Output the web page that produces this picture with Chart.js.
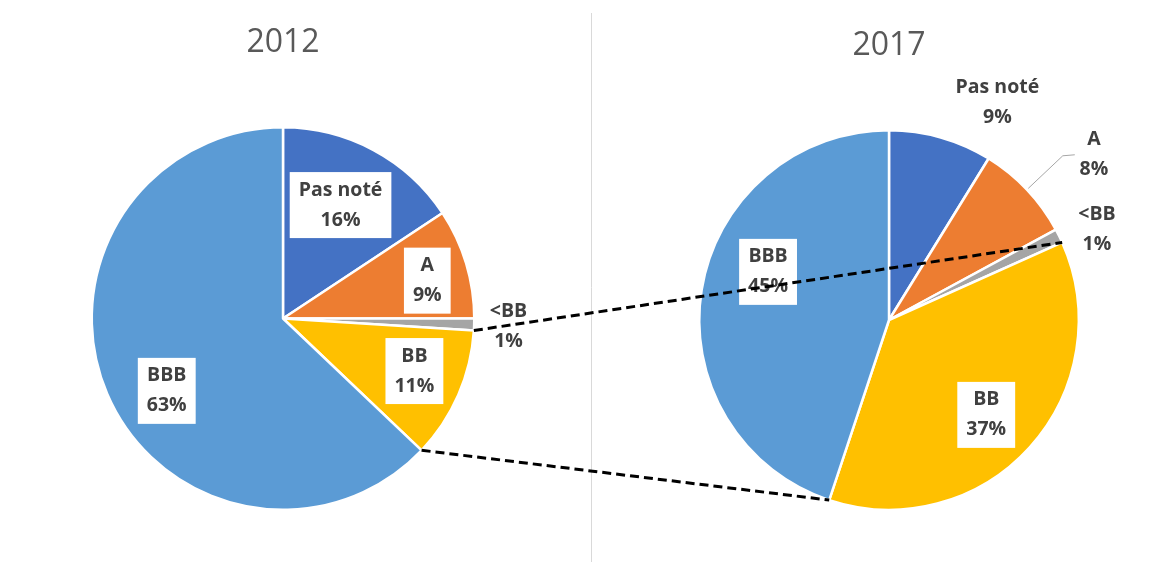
<!DOCTYPE html>
<html>
<head>
<meta charset="utf-8">
<script src="https://cdn.jsdelivr.net/npm/chart.js@4.4.1/dist/chart.umd.min.js"></script>
<style>
  body { margin: 0; background: #fff; }
  #wrap { position: relative; width: 1176px; height: 565px; }
  canvas { position: absolute; top: 0; }
  #c2012 { left: 0; }
  #c2017 { left: 591px; }
  #overlay { left: 0; pointer-events: none; }
</style>
</head>
<body>
<div id="wrap">
  <canvas id="c2012" width="591" height="565"></canvas>
  <canvas id="c2017" width="585" height="565"></canvas>
  <canvas id="overlay" width="1176" height="565"></canvas>
</div>
<script>
// rating categories and shares (%)
var categories = ["Pas noté", "A", "<BB", "BB", "BBB"];
var shares2012 = [15.7, 9.3, 1.0, 11.1, 62.9];
var shares2017 = [8.8, 8.3, 1.2, 36.8, 44.9];
var colors = ["#4472C4", "#ED7D31", "#A5A5A5", "#FFC000", "#5B9BD5"];

var FONT = "'Open Sans', 'Noto Sans', sans-serif";

// draws the white boxed labels / outside labels for each slice
var sliceLabels = {
  id: 'sliceLabels',
  afterDatasetsDraw: function (chart, args, opts) {
    var ctx = chart.ctx;
    var meta = chart.getDatasetMeta(0);
    var data = chart.data.datasets[0].data;
    ctx.save();
    ctx.font = "bold 19.5px " + FONT;
    ctx.textAlign = "center";
    ctx.textBaseline = "middle";
    meta.data.forEach(function (arc, i) {
      var p = opts.pos[i];
      var a = (p[0] - 90) * Math.PI / 180;
      var cx = arc.x + Math.cos(a) * arc.outerRadius * p[1];
      var cy = arc.y + Math.sin(a) * arc.outerRadius * p[1];
      var l1 = chart.data.labels[i];
      var l2 = Math.round(data[i]) + "%";
      var lh = 30;
      if (opts.boxed[i]) {
        var w = Math.max(ctx.measureText(l1).width, ctx.measureText(l2).width) + 18;
        var h = lh * 2 + 6;
        ctx.fillStyle = "#fff";
        ctx.fillRect(cx - w / 2, cy - h / 2, w, h);
      }
      if (opts.leader && opts.leader[i]) {
        var ma = (arc.startAngle + arc.endAngle) / 2;
        var x1 = arc.x + Math.cos(ma) * arc.outerRadius * 1.01;
        var y1 = arc.y + Math.sin(ma) * arc.outerRadius * 1.01;
        var x2 = arc.x + Math.cos(ma) * arc.outerRadius * 1.26;
        var y2 = arc.y + Math.sin(ma) * arc.outerRadius * 1.26;
        ctx.strokeStyle = "#A6A6A6";
        ctx.lineWidth = 1;
        ctx.beginPath();
        ctx.moveTo(x1, y1);
        ctx.lineTo(x2, y2);
        ctx.lineTo(x2 + 12, y2 - 1);
        ctx.stroke();
      }
      ctx.fillStyle = "#404040";
      ctx.fillText(l1, cx, cy - lh / 2);
      ctx.fillText(l2, cx, cy + lh / 2);
    });
    ctx.restore();
  }
};

function makePie(id, year, values, pad, titleGap, labelOpts) {
  return new Chart(document.getElementById(id), {
    type: 'pie',
    data: {
      labels: categories,
      datasets: [{
        data: values,
        backgroundColor: colors,
        borderColor: "#fff",
        borderWidth: 2.5,
        hoverOffset: 0
      }]
    },
    options: {
      responsive: false,
      animation: false,
      layout: { padding: pad },
      plugins: {
        legend: { display: false },
        tooltip: { enabled: false },
        title: {
          display: true,
          text: year,
          color: "#595959",
          font: { family: FONT, size: 32, weight: 'normal', lineHeight: 1.2 },
          padding: { top: 0, bottom: titleGap }
        },
        sliceLabels: labelOpts
      }
    },
    plugins: [sliceLabels]
  });
}

var left = makePie("c2012", "2012", shares2012,
  { left: 88, right: 113, top: 24, bottom: 54 }, 63.6, {
    pos: [[26.9, 0.665], [75.3, 0.78], [92, 1.18], [111.8, 0.74], [238.1, 0.716]],
    boxed: [true, true, false, true, true]
  });

var right = makePie("c2017", "2017", shares2017,
  { left: 104, right: 93, top: 27, bottom: 54 }, 63.6, {
    pos: [[26.5, 1.28], [51, 1.39], [66.5, 1.195], [134.3, 0.716], [291.7, 0.686]],
    boxed: [false, false, false, true, true],
    leader: [false, true, false, false, false]
  });

// overlay: divider line and dashed connectors between the BB slices
(function () {
  var o = document.getElementById("overlay").getContext("2d");
  o.strokeStyle = "#D9D9D9";
  o.lineWidth = 1;
  o.beginPath();
  o.moveTo(591.5, 13);
  o.lineTo(591.5, 562);
  o.stroke();

  var bb = categories.indexOf("BB");
  var aL = left.getDatasetMeta(0).data[bb];
  var aR = right.getDatasetMeta(0).data[bb];
  function pt(arc, ang, dx) {
    return [dx + arc.x + Math.cos(ang) * arc.outerRadius, arc.y + Math.sin(ang) * arc.outerRadius];
  }
  o.strokeStyle = "#000";
  o.lineWidth = 3;
  o.setLineDash([9, 5]);
  ["startAngle", "endAngle"].forEach(function (k) {
    var p1 = pt(aL, aL[k], 0);
    var p2 = pt(aR, aR[k], 591);
    o.beginPath();
    o.moveTo(p1[0], p1[1]);
    o.lineTo(p2[0], p2[1]);
    o.stroke();
  });
})();
</script>
</body>
</html>
